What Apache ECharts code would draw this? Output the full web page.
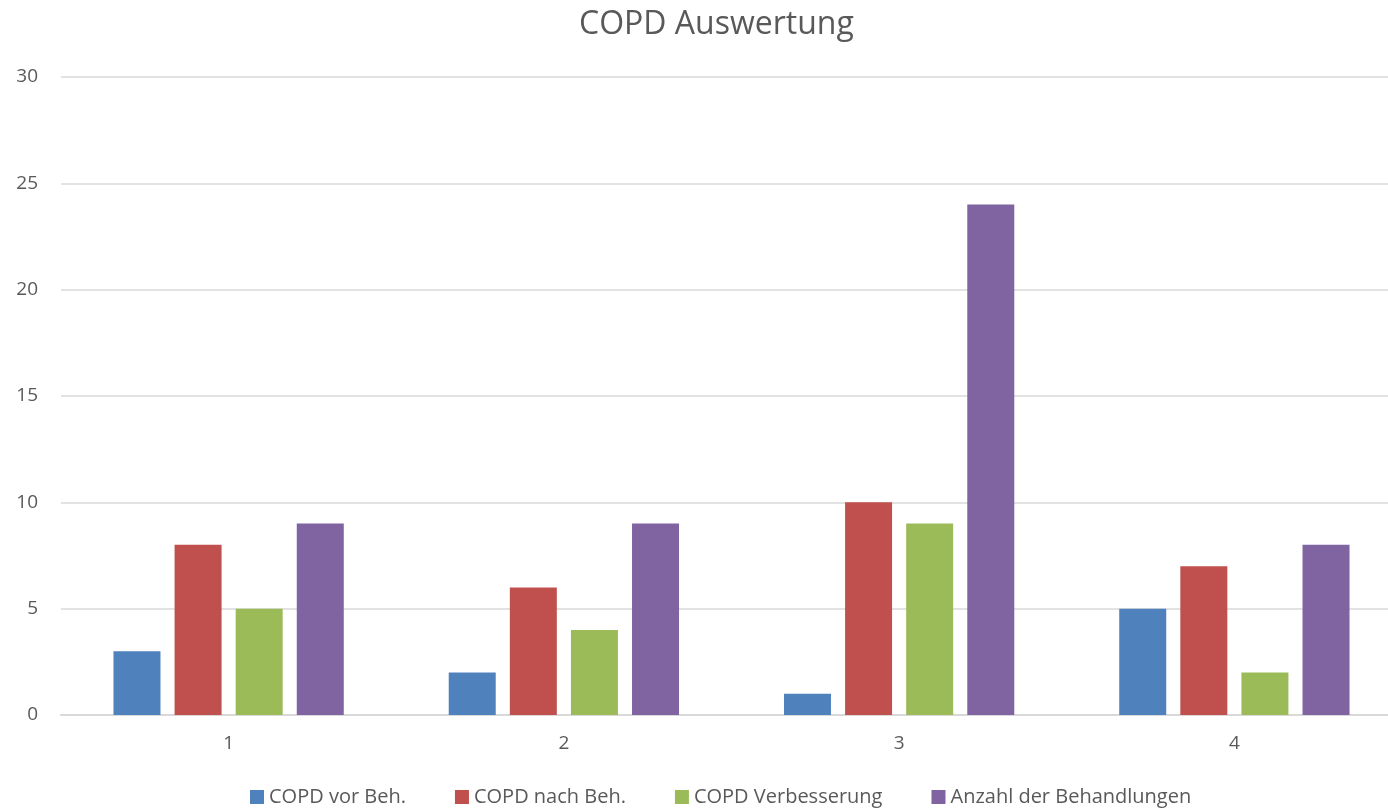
<!DOCTYPE html>
<html>
<head>
<meta charset="utf-8">
<script src="https://cdn.jsdelivr.net/npm/echarts@6/dist/echarts.min.js"></script>
<style>
  html, body { margin: 0; padding: 0; background: #fff; }
  #chart { width: 1388px; height: 812px; }
</style>
</head>
<body>
<div id="chart"></div>
<script>
  // Kategorien und Werte aus der Vorlage
  var categories = ['1', '2', '3', '4'];
  var vorBeh = [3, 2, 1, 5];
  var nachBeh = [8, 6, 10, 7];
  var verbesserung = [5, 4, 9, 2];
  var behandlungen = [9, 9, 24, 8];
  var seriesNames = ['COPD vor Beh.', 'COPD nach Beh.', 'COPD Verbesserung', 'Anzahl der Behandlungen'];
  var colors = ['#4F81BD', '#C0504D', '#9BBB59', '#8064A2'];

  var font = '"Open Sans", "Noto Sans", sans-serif';
  var chart = echarts.init(document.getElementById('chart'));

  function bar(name, data, i) {
    return {
      name: name,
      type: 'bar',
      data: data,
      barWidth: 47,
      barGap: '30%',
      itemStyle: { color: colors[i] },
      emphasis: { disabled: true }
    };
  }

  var option = {
    animation: false,
    color: colors,
    title: {
      text: 'COPD Auswertung',
      left: 574,
      top: 4,
      textStyle: { fontFamily: font, fontSize: 32, fontWeight: 'normal', color: '#595959' }
    },
    legend: {
      bottom: 0,
      left: 245,
      itemWidth: 14,
      itemHeight: 14,
      itemGap: 49,
      icon: 'rect',
      textStyle: { fontFamily: font, fontSize: 20, color: '#595959' },
      data: seriesNames
    },
    grid: {
      left: 61,
      width: 1341,
      top: 77,
      bottom: 97,
      outerBoundsMode: 'none'
    },
    xAxis: {
      type: 'category',
      data: categories,
      axisTick: { show: false },
      axisLine: { lineStyle: { color: '#d9d9d9', width: 2 } },
      axisLabel: { fontFamily: font, fontSize: 19, color: '#595959', margin: 19 }
    },
    yAxis: {
      type: 'value',
      min: 0,
      max: 30,
      interval: 5,
      axisLine: { show: false },
      axisTick: { show: false },
      splitLine: { lineStyle: { color: '#d9d9d9', width: 1.5 } },
      axisLabel: { fontFamily: font, fontSize: 19, color: '#595959', margin: 23 }
    },
    series: [
      bar(seriesNames[0], vorBeh, 0),
      bar(seriesNames[1], nachBeh, 1),
      bar(seriesNames[2], verbesserung, 2),
      bar(seriesNames[3], behandlungen, 3)
    ]
  };

  chart.setOption(option);
</script>
</body>
</html>
